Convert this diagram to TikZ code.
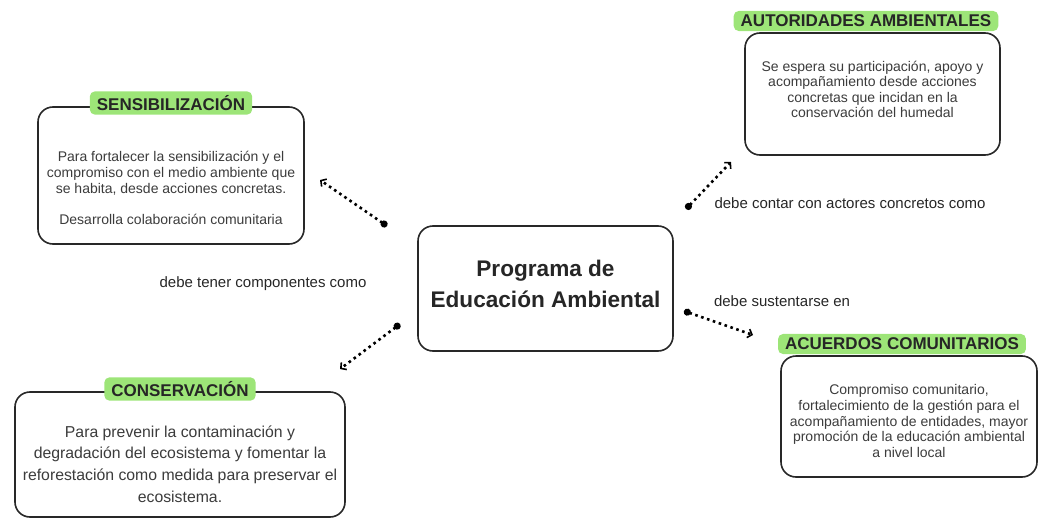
\documentclass[tikz,border=0pt]{standalone}
\usepackage{fontspec}
\setmainfont{Liberation Sans}
\usepackage{tikz}
\usetikzlibrary{arrows.meta,positioning}
\definecolor{tagGreen}{RGB}{157,229,120}
\definecolor{boxLine}{RGB}{40,40,40}
\definecolor{txtGray}{RGB}{60,60,60}
\tikzset{
  cajon/.style={draw=boxLine,line width=1.6pt,rounded corners=15pt,fill=white},
  etiqueta/.style={fill=tagGreen,rounded corners=5pt,inner xsep=7pt,inner ysep=4pt,font=\fontsize{17}{19}\selectfont\bfseries,text=black!85},
  cuerpo/.style={align=center,text=txtGray,font=\fontsize{14}{15.6}\selectfont},
  enlace/.style={line width=2.6pt,dash pattern=on 2.6pt off 3.6pt,{Circle[length=7pt,width=7pt]}-{Straight Barb[length=4pt,width=9pt,line width=1.6pt]}},
  nota/.style={text=black!85,font=\fontsize{15}{17}\selectfont}
}
\begin{document}
\begin{tikzpicture}[x=1pt,y=-1pt]
  \useasboundingbox (0,0) rectangle (1039,519);
  % centro
  \node[cajon,minimum width=255pt,minimum height=125pt] (centro) at (545.5,288.5) {};
  \node[align=center,font=\fontsize{22.6}{31}\selectfont\bfseries,text=black!85] (titulo) at (545.5,283.5) {Programa de\\Educación Ambiental};
  % sensibilizacion
  \node[cajon,minimum width=266pt,minimum height=137pt] (sens) at (171,175.5) {};
  \node[etiqueta] (sensTag) at (171,103) {SENSIBILIZACIÓN};
  \node[cuerpo] (sensTxt) at (171,188) {Para fortalecer la sensibilización y el\\compromiso con el medio ambiente que\\se habita, desde acciones concretas.\\[15.6pt]Desarrolla colaboración comunitaria};
  % autoridades
  \node[cajon,minimum width=255pt,minimum height=122pt] (auto) at (872.5,94) {};
  \node[etiqueta] (autoTag) at (866,21) {AUTORIDADES AMBIENTALES};
  \node[cuerpo] (autoTxt) at (872.5,89.5) {Se espera su participación, apoyo y\\acompañamiento desde acciones\\concretas que incidan en la\\conservación del humedal};
  % conservacion
  \node[cajon,minimum width=330pt,minimum height=125pt] (cons) at (180,454.5) {};
  \node[etiqueta] (consTag) at (180,389) {CONSERVACIÓN};
  \node[cuerpo,font=\fontsize{15.8}{21.7}\selectfont] (consTxt) at (180,464) {Para prevenir la contaminación y\\degradación del ecosistema y fomentar la\\reforestación como medida para preservar el\\ecosistema.};
  % acuerdos
  \node[cajon,minimum width=256pt,minimum height=121pt] (acu) at (909,416.5) {};
  \node[etiqueta] (acuTag) at (902,344) {ACUERDOS COMUNITARIOS};
  \node[cuerpo] (acuTxt) at (909,421) {Compromiso comunitario,\\fortalecimiento de la gestión para el\\acompañamiento de entidades, mayor\\promoción de la educación ambiental\\a nivel local};
  % enlaces
  \coordinate (s0) at (387,226);
  \coordinate (s1) at (320,180);
  \coordinate (a0) at (686,209);
  \coordinate (a1) at (731,162);
  \coordinate (c0) at (400,324);
  \coordinate (c1) at (340,369);
  \coordinate (u0) at (684,311);
  \coordinate (u1) at (753,335);
  \draw[enlace] (s0) -- (s1);
  \draw[enlace] (a0) -- (a1);
  \draw[enlace] (c0) -- (c1);
  \draw[enlace] (u0) -- (u1);
  \node[nota] (notaS) at (263,284) {debe tener componentes como};
  \node[nota] (notaA) at (850,203) {debe contar con actores concretos como};
  \node[nota] (notaU) at (782,301) {debe sustentarse en};
\end{tikzpicture}
\end{document}
